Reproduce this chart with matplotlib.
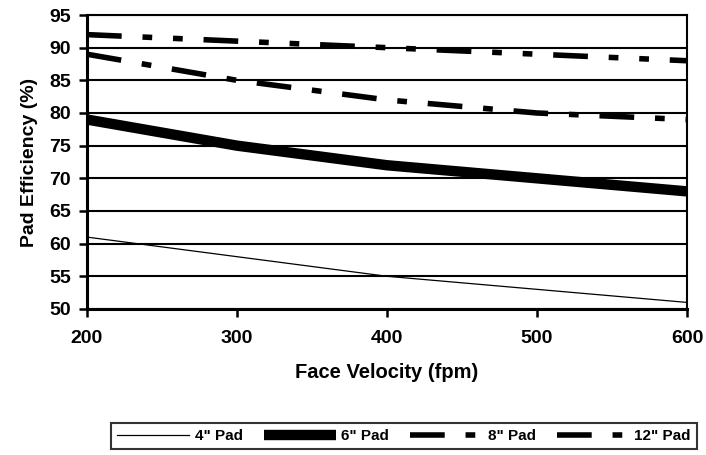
"""Pad efficiency vs. face velocity for four evaporative pad depths."""

import matplotlib

matplotlib.use("Agg")
import matplotlib.pyplot as plt

# Face velocity (fpm) and efficiency (%) per pad depth
velocity = [200, 300, 400, 500, 600]
pad_4 = [61, 58, 55, 53, 51]
pad_6 = [79, 75, 72, 70, 68]
pad_8 = [89, 85, 82, 80, 79]
pad_12 = [92, 91, 90, 89, 88]

y_ticks = [50, 55, 60, 65, 70, 75, 80, 85, 90, 95]

FONT = "Liberation Sans"


def set_style():
    plt.rcParams.update({
        "font.family": FONT,
        "font.weight": "bold",
        "font.size": 14,
        "lines.scale_dashes": False,
        "axes.linewidth": 1.5,
        "xtick.major.width": 1.8,
        "ytick.major.width": 1.8,
        "xtick.major.size": 5.5,
        "ytick.major.size": 5.5,
    })


def main():
    set_style()
    fig = plt.figure(figsize=(7.06, 4.55), dpi=100)
    ax = fig.add_axes([0.1232, 0.321, 0.8498, 0.646])

    # horizontal gridlines behind the series
    for y in y_ticks:
        ax.axhline(y, color="black", lw=1.5, zorder=1)

    ax.plot(velocity, pad_4, color="black", lw=0.9, label='4" Pad', zorder=3)
    ax.plot(velocity, pad_6, color="black", lw=7.5, label='6" Pad', zorder=3,
            solid_capstyle="butt")
    ax.plot(velocity, pad_8, color="black", lw=4, label='8" Pad', zorder=3,
            dashes=(25, 15, 7, 15))
    ax.plot(velocity, pad_12, color="black", lw=4, label='12" Pad', zorder=3,
            dashes=(25, 15, 7, 15, 7, 15))

    ax.set_xlim(200, 600)
    ax.set_ylim(50, 95)
    ax.set_xticks(velocity)
    ax.set_yticks(y_ticks)
    ax.tick_params(axis="x", pad=10, labelsize=14)
    ax.tick_params(axis="y", pad=6, labelsize=14)

    ax.spines["left"].set_linewidth(2.2)
    ax.spines["bottom"].set_linewidth(2.2)
    ax.spines["top"].set_linewidth(1.5)
    ax.spines["right"].set_linewidth(1.5)

    ax.set_xlabel("Face Velocity (fpm)", fontsize=14.5, fontweight="bold",
                  labelpad=11)
    ax.set_ylabel("Pad Efficiency (%)", fontsize=14, fontweight="bold",
                  labelpad=8)

    leg = fig.legend(loc="center", bbox_to_anchor=(404 / 706, 1 - 436 / 455),
                     ncol=4, prop={"family": FONT, "weight": "bold", "size": 11},
                     handlelength=4.7, handletextpad=0.35, columnspacing=1.4,
                     fancybox=False, frameon=True, borderpad=0.4)
    frame = leg.get_frame()
    frame.set_edgecolor("black")
    frame.set_linewidth(1.5)

    fig.savefig("out.png", dpi=100)
    plt.close(fig)


if __name__ == "__main__":
    main()
